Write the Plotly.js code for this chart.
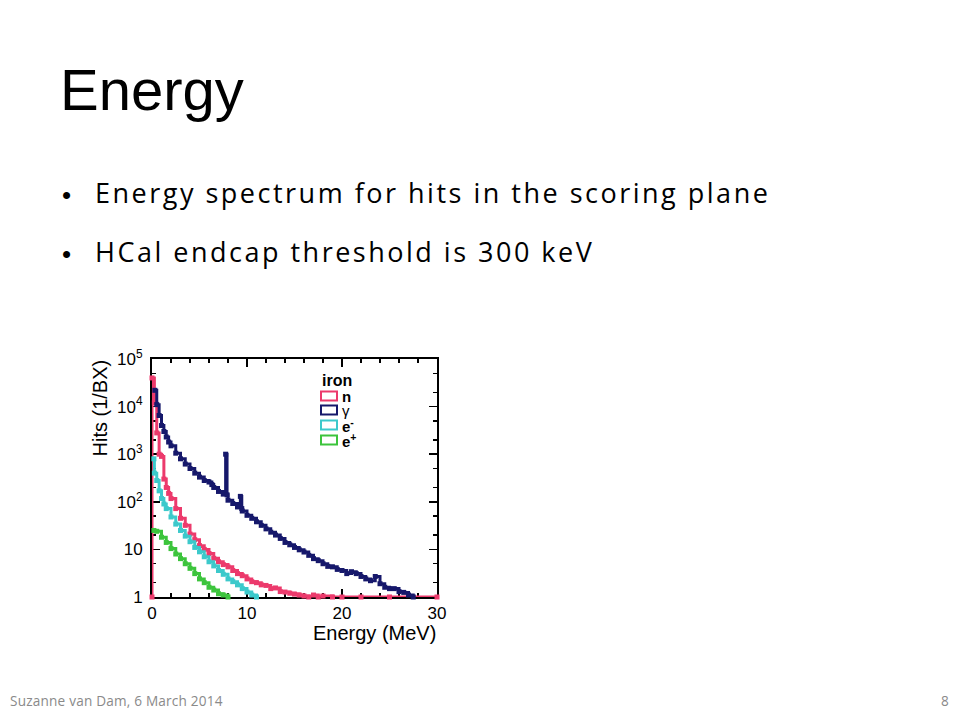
<!DOCTYPE html>
<html>
<head>
<meta charset="utf-8">
<script src="https://cdn.plot.ly/plotly-3.0.1.min.js"></script>
<style>html,body{margin:0;padding:0;background:#fff;}#chart{width:960px;height:720px;}</style>
</head>
<body>
<div id="chart"></div>
<script>
// Energy spectra (bin left edge in MeV, hits per BX)
const gammaE = [0.3,0.5,0.75,1.0,1.25,1.5,1.75,2.0,2.5,3.0,3.5,4.0,4.5,5.0,5.5,6.0,6.3,6.5,7.0,7.5,7.75,7.9,8.0,8.5,9.0,9.3,9.45,9.5,10.0,10.5,11.0,11.5,12.0,12.5,13.0,13.5,14.0,14.5,15.0,15.5,16.0,16.5,17.0,17.5,18.0,18.5,19.0,19.5,20.0,20.5,21.0,21.5,22.0,22.5,23.0,23.5,24.0,24.5,25.0,25.5,26.0,26.5,27.0,27.5];
const gammaH = [22000,11000,6500,4000,3000,2300,1800,1500,1050,800,620,500,400,330,280,260,230,200,165,145,1000,140,108,92,78,130,72,64,52,45,38,32,27,23,20,17,14,12.5,11,9.8,8.8,7.5,6.4,5.8,5.0,4.4,4.3,3.8,3.6,3.1,3.4,3.1,2.7,2.4,2.2,2.7,1.9,1.6,1.5,1.5,1.3,1.25,1.1,1.0];

const neutronE = [0.0,0.0,0.25,0.5,0.75,1.0,1.25,1.5,1.75,2.0,2.5,3.0,3.5,4.0,4.5,5.0,5.5,6.0,6.5,7.0,7.5,8.0,8.5,9.0,9.5,10.0,10.5,11.0,11.5,12.0,12.5,13.0,13.5,14.0,14.5,15.0,15.5,16.0,16.5,17.0,17.5,18.0,19.0,20.0,22.0,25.0,30.0];
const neutronH = [1,40000,12000,2800,1000,900,300,200,150,117,72,45,32,21,16,12,10,8.2,6.5,5.5,4.8,4.3,3.6,3.1,2.8,2.4,2.1,2.0,1.8,1.75,1.5,1.55,1.3,1.27,1.2,1.15,1.1,1.05,1.0,1.1,1.0,1.05,1.0,1.0,1.0,1.0,1.0];

const eminusE = [0.2,0.25,0.5,0.75,1.0,1.25,1.5,2.0,2.5,3.0,3.5,4.0,4.5,5.0,5.5,6.0,6.5,7.0,7.5,8.0,8.5,9.0,9.5,10.0,10.5,11.0];
const eminusH = [800,400,280,170,117,90,72,48,34,25,19,14.5,11,8.9,7,5.5,4.5,3.6,3.0,2.4,2.1,1.8,1.5,1.27,1.1,1.0];

const eplusE = [0.2,0.5,1.0,1.5,2.0,2.5,3.0,3.5,4.0,4.5,5.0,5.5,6.0,6.5,7.0,7.5,8.0];
const eplusH = [25,24,18,14,10.4,8,6.4,5,4,3.1,2.4,2.0,1.6,1.4,1.17,1.1,1.0];

const yTickVals = [1,10,100,1000,10000,100000];
const yTickText = ['1','10','10<sup>2</sup>','10<sup>3</sup>','10<sup>4</sup>','10<sup>5</sup>'];
const xTickVals = [0,10,20,30];

const legendLabels = ['<b>n</b>','γ','<b>e<sup>-</sup></b>','<b>e<sup>+</sup></b>'];
const colors = ['#ec3a6c','#16186b','#3cc9cb','#3cc43c'];

function trace(x, y, c, name) {
  return {x: x, y: y, type: 'scatter', mode: 'lines+markers', line: {shape: 'hv', color: c, width: 3},
    marker: {symbol: 'square', size: 5, color: c}, name: name, showlegend: false, cliponaxis: false};
}
const data = [
  trace(neutronE, neutronH, colors[0], 'n'),
  trace(eminusE, eminusH, colors[2], 'e-'),
  trace(eplusE, eplusH, colors[3], 'e+'),
  trace(gammaE, gammaH, colors[1], 'gamma')
];

const W = 960, H = 720;
const px = v => v / W, py = v => 1 - v / H;
const plotFont = 'Liberation Sans, Arial, sans-serif';
const slideFont = 'Open Sans, Carlito, Calibri, sans-serif';

function ann(o) { return Object.assign({xref: 'paper', yref: 'paper', showarrow: false}, o); }

const bullet1 = 'Energy spectrum for hits in the scoring plane';
const bullet2 = 'HCal endcap threshold is 300 keV';
const footer = 'Suzanne van Dam, 6 March 2014';

const annotations = [
  ann({text: 'Energy', x: px(58), y: py(124), xanchor: 'left', yanchor: 'bottom',
   font: {family: plotFont, size: 58, color: '#000'}}),
  ann({text: '•', x: px(60), y: py(212), xanchor: 'left', yanchor: 'bottom',
   font: {family: 'Liberation Sans, Arial', size: 26, color: '#000'}}),
  ann({text: bullet1, x: px(93), y: py(213), xanchor: 'left', yanchor: 'bottom',
   font: {family: slideFont, size: 27, color: '#000'}}),
  ann({text: '•', x: px(60), y: py(271), xanchor: 'left', yanchor: 'bottom',
   font: {family: 'Liberation Sans, Arial', size: 26, color: '#000'}}),
  ann({text: bullet2, x: px(93), y: py(272), xanchor: 'left', yanchor: 'bottom',
   font: {family: slideFont, size: 27, color: '#000'}}),
  ann({text: footer, x: px(8), y: py(700), xanchor: 'left', yanchor: 'middle',
   font: {family: slideFont, size: 13.6, color: '#8a8a8a'}}),
  ann({text: '8', x: px(951), y: py(700), xanchor: 'right', yanchor: 'middle',
   font: {family: slideFont, size: 13.6, color: '#8a8a8a'}}),
  ann({text: 'Hits (1/BX)', x: px(99), y: py(358), xanchor: 'center', yanchor: 'top', textangle: -90,
   font: {family: plotFont, size: 20, color: '#000'}}),
  ann({text: 'Energy (MeV)', x: px(438), y: py(633), xanchor: 'right', yanchor: 'middle',
   font: {family: plotFont, size: 20, color: '#000'}}),
  ann({text: '<b>iron</b>', x: px(320), y: py(380), xanchor: 'left', yanchor: 'middle',
   font: {family: plotFont, size: 16, color: '#000'}})
];
const shapes = [];
const legendY = [396, 410, 425, 440];
for (let i = 0; i < 4; i++) {
  shapes.push({type: 'rect', xref: 'paper', yref: 'paper', x0: px(321), x1: px(337), y0: py(legendY[i] - 4.5), y1: py(legendY[i] + 4.5),
    line: {color: colors[i], width: 2}, fillcolor: 'rgba(0,0,0,0)'});
  annotations.push(ann({text: legendLabels[i], x: px(340), y: py(legendY[i]), xanchor: 'left', yanchor: 'middle',
    font: {family: plotFont, size: 15, color: '#000'}}));
}

const layout = {
  width: W, height: H,
  margin: {l: 0, r: 0, t: 0, b: 0},
  paper_bgcolor: '#fff', plot_bgcolor: '#fff',
  showlegend: false,
  xaxis: {domain: [px(152), px(437)], range: [0, 30], tickvals: xTickVals, ticks: 'inside', ticklen: 8, tickwidth: 1.5,
    tickcolor: '#000', showline: true, linecolor: '#000', linewidth: 2, mirror: 'ticks', showgrid: false, zeroline: false,
    layer: 'below traces',
    minor: {ticks: 'inside', ticklen: 4, dtick: 2, tickcolor: '#000', showgrid: false},
    tickfont: {family: plotFont, size: 17, color: '#000'}},
  yaxis: {domain: [py(597), py(359)], type: 'log', range: [0, 5], tickvals: yTickVals, ticktext: yTickText, ticks: 'inside',
    ticklen: 8, tickwidth: 1.5, tickcolor: '#000', showline: true, linecolor: '#000', linewidth: 2, mirror: 'ticks',
    showgrid: false, zeroline: false, layer: 'below traces', ticklabelstandoff: 4,
    minor: {ticks: 'inside', ticklen: 4, tickcolor: '#000', showgrid: false},
    tickfont: {family: plotFont, size: 17, color: '#000'}},
  annotations: annotations,
  shapes: shapes
};

Plotly.newPlot('chart', data, layout, {staticPlot: true, displayModeBar: false}).then(function (gd) {
  // the slide text is set with wide tracking; keep its left edge where it was
  gd.querySelectorAll('.annotation-text').forEach(function (t) {
    const s = t.textContent;
    let sp = null;
    if (s === bullet1 || s === bullet2) sp = '2.5px';
    if (s === footer) sp = '0.2px';
    if (sp === null) return;
    const before = t.getBBox();
    t.style.letterSpacing = sp;
    const after = t.getBBox();
    const dx = before.x - after.x;
    t.setAttribute('x', parseFloat(t.getAttribute('x')) + dx);
  });
});
</script>
</body>
</html>
